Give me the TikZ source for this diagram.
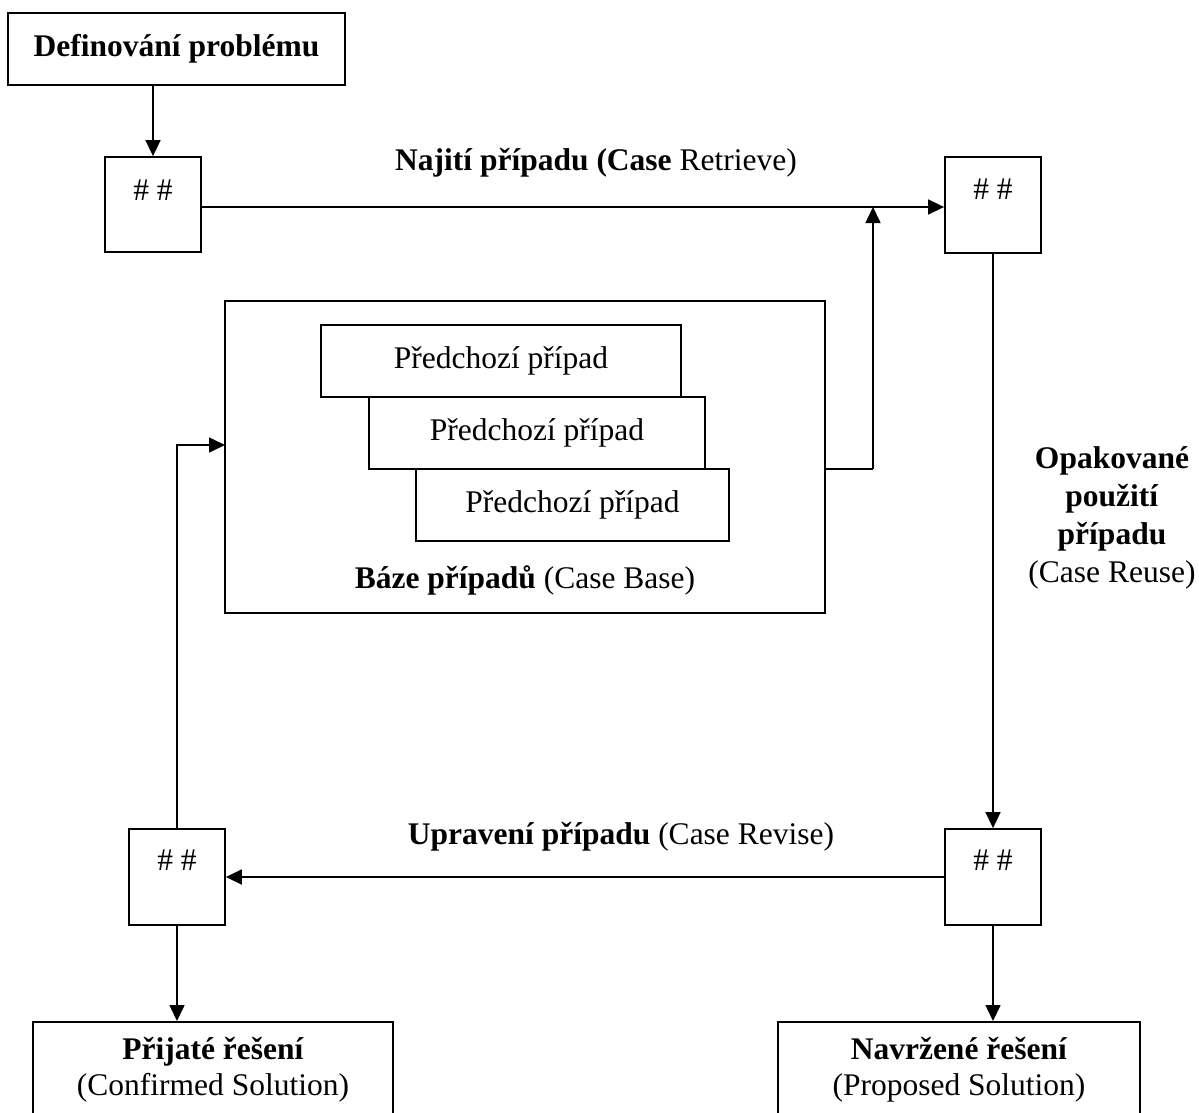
\documentclass[tikz,border=0pt]{standalone}
\usepackage{fontspec}
\setmainfont{Liberation Serif}
\usetikzlibrary{arrows.meta}
\begin{document}
\begin{tikzpicture}[x=1pt,y=-1pt,
  every node/.style={font=\fontsize{31.5}{38}\selectfont, inner sep=0pt},
  box/.style={draw, line width=1.8pt, inner sep=0pt},
  conn/.style={line width=1.6pt, -{Triangle[length=16pt,width=15pt]}},
  txt/.style={align=center}]
\fill[white] (0,0) rectangle (1199,1113);
\useasboundingbox (0,0) rectangle (1199,1113);
\clip (0,0) rectangle (1199,1113);

% top problem box
\node[box, minimum width=337pt, minimum height=72pt] (def) at (176.5,49) {\textbf{Definování problému}};

% small boxes
\node[box, minimum width=96pt, minimum height=95pt] (tl) at (153,204.5) {};
\node (tlt) at (153,190) {\# \#};
\node[box, minimum width=96pt, minimum height=96pt] (tr) at (993,205) {};
\node (trt) at (993,189) {\# \#};
\node[box, minimum width=96pt, minimum height=96pt] (bl) at (177,877) {};
\node (blt) at (177,860) {\# \#};
\node[box, minimum width=96pt, minimum height=96pt] (br) at (993,877) {};
\node (brt) at (993,860) {\# \#};

% case base
\node[box, minimum width=600pt, minimum height=312pt] (cb) at (525,457) {};
\node[box, minimum width=360pt, minimum height=72pt] (b1) at (501,361) {Předchozí případ};
\node[box, minimum width=336pt, minimum height=72pt] (b2) at (537,433) {Předchozí případ};
\node[box, minimum width=313pt, minimum height=72pt] (b3) at (572.5,505) {Předchozí případ};
\node (cbt) at (525,580) {\textbf{Báze případů} (Case Base)};

% result boxes
\node[box, minimum width=360pt, minimum height=130pt, anchor=north] (r1) at (213,1021) {};
\node[txt, font=\fontsize{31.5}{36}\selectfont] (r1t) at (213,1070) {\textbf{Přijaté řešení}\\(Confirmed Solution)};
\node[box, minimum width=362pt, minimum height=130pt, anchor=north] (r2) at (959,1021) {};
\node[txt, font=\fontsize{31.5}{36}\selectfont] (r2t) at (959,1070) {\textbf{Navržené řešení}\\(Proposed Solution)};

% labels
\node (lret) at (596,163) {\textbf{Najití případu (Case} Retrieve)};
\node[txt] (lreu) at (1112,518) {\textbf{Opakované}\\\textbf{použití}\\\textbf{případu}\\(Case Reuse)};
\node (lrev) at (621,837) {\textbf{Upravení případu} (Case Revise)};

% connector points
\coordinate (cbout) at (825,469);
\coordinate (jn) at (873,207);
\coordinate (cbin) at (225,445);

% connectors
\draw[conn] (tl.north |- def.south) -- (tl.north);
\draw[conn] (tl.east |- jn) -- (tr.west |- jn);
\draw[line width=1.6pt] (cbout) -- (cbout -| jn);
\draw[conn] (cbout -| jn) -- (jn);
\draw[conn] (tr.south) -- (br.north);
\draw[conn] (br.west) -- (bl.east);
\draw[conn] (bl.north) |- (cbin);
\draw[conn] (bl.south) -- (bl.south |- r1.north);
\draw[conn] (br.south) -- (br.south |- r2.north);
\end{tikzpicture}
\end{document}
